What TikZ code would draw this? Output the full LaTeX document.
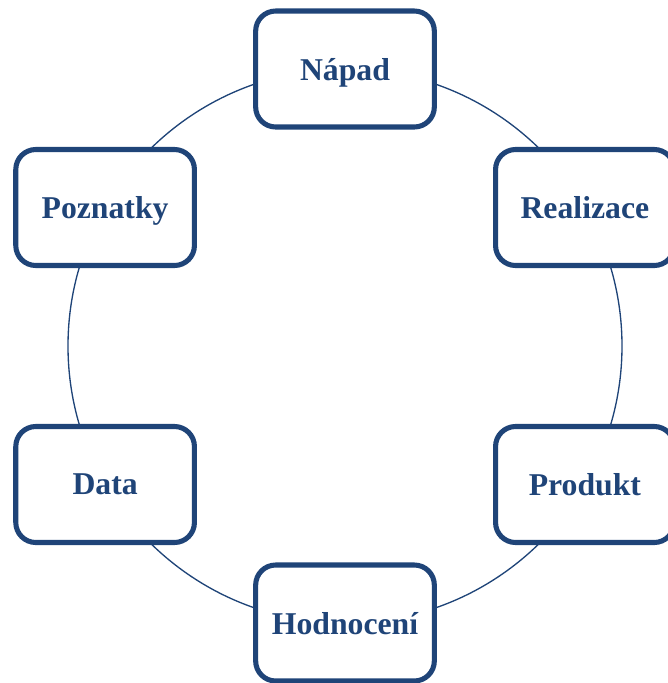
\documentclass[tikz,border=0pt]{standalone}
\usepackage{fontspec}
\setmainfont{Liberation Serif}
\usepackage{tikz}
\usetikzlibrary{calc,positioning}
\definecolor{cyklus}{RGB}{31,68,120}

\begin{document}
\begin{tikzpicture}[x=0.75pt,y=-0.75pt,
        krok/.style={draw=cyklus, line width=3.8pt, fill=white, rounded corners=15pt,
            minimum width=134pt, minimum height=87pt, text=cyklus, text depth=0pt,
            font=\fontsize{23.8}{26}\selectfont\bfseries}]
            \useasboundingbox (0,0) rectangle (668,683);
            \coordinate (stred) at (345,346);
            \draw [cyklus, line width=1pt] (stred) circle (207.75pt);
            \node [krok] (napad) at ($(stred)+(90:207.75pt)$) {Nápad};
            \node [krok] (realizace) at ($(stred)+(30:207.75pt)$) {Realizace};
            \node [krok] (produkt) at ($(stred)+(-30:207.75pt)$) {Produkt};
            \node [krok] (hodnoceni) at ($(stred)+(-90:207.75pt)$) {Hodnocení};
            \node [krok] (data) at ($(stred)+(-150:207.75pt)$) {Data};
            \node [krok] (poznatky) at ($(stred)+(150:207.75pt)$) {Poznatky};
        \end{tikzpicture}
\end{document}
